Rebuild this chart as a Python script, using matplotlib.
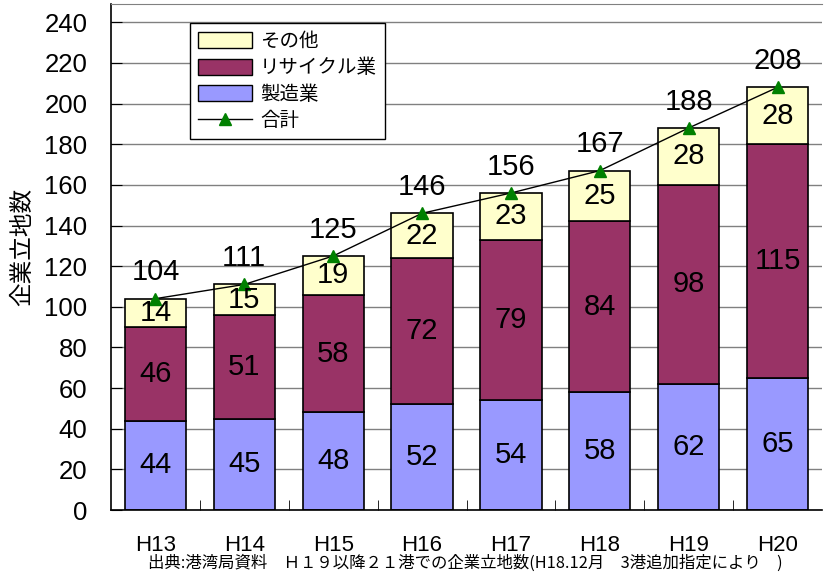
import numpy as np
import matplotlib
matplotlib.use("Agg")
import matplotlib.pyplot as plt
from matplotlib.patches import Patch
from matplotlib.lines import Line2D

# data
years = ["H13", "H14", "H15", "H16", "H17", "H18", "H19", "H20"]
seizo = [44, 45, 48, 52, 54, 58, 62, 65]
recycle = [46, 51, 58, 72, 79, 84, 98, 115]
sonota = [14, 15, 19, 22, 23, 25, 28, 28]
total = [104, 111, 125, 146, 156, 167, 188, 208]

c_seizo = "#9999FF"
c_recycle = "#993366"
c_sonota = "#FFFFCC"

num_font = ["Liberation Sans", "DejaVu Sans"]
jp_font = ["Noto Sans CJK JP", "DejaVu Sans"]

fig = plt.figure(figsize=(8.25, 5.77), dpi=100)
ax = fig.add_axes([111/825, 1-510/577, 711/825, 506/577])

x = np.arange(len(years))
w = 0.69
b1 = ax.bar(x, seizo, w, color=c_seizo, edgecolor="black", linewidth=1.2, zorder=2)
b2 = ax.bar(x, recycle, w, bottom=seizo, color=c_recycle, edgecolor="black", linewidth=1.2, zorder=2)
bot3 = np.array(seizo) + np.array(recycle)
b3 = ax.bar(x, sonota, w, bottom=bot3, color=c_sonota, edgecolor="black", linewidth=1.2, zorder=2)
ax.plot(x, total, color="black", lw=1, marker="^", markersize=8,
        markerfacecolor="green", markeredgecolor="green", zorder=3)

# labels in segments
for i in range(len(years)):
    ax.text(x[i], seizo[i]/2, str(seizo[i]), ha="center", va="center",
            fontsize=21, family=num_font, zorder=4)
    ax.text(x[i], seizo[i] + recycle[i]/2, str(recycle[i]), ha="center", va="center",
            fontsize=21, family=num_font, zorder=4)
    ax.text(x[i], bot3[i] + sonota[i]/2, str(sonota[i]), ha="center", va="center",
            fontsize=21, family=num_font, zorder=4)
    ax.annotate(str(total[i]), (x[i], total[i]), xytext=(0, 19), textcoords="offset points",
                ha="center", va="center", fontsize=21, family=num_font, zorder=4)

ax.set_xlim(-0.5, len(years) - 0.5)
ax.set_ylim(0, 249)
ax.set_yticks(range(0, 241, 20))
ax.yaxis.grid(True, color="#808080", lw=1, zorder=0)
ax.set_axisbelow(True)
ax.tick_params(axis="y", direction="in", length=8, labelsize=18.5, pad=17)
for t in ax.get_yticklabels():
    t.set_family(num_font)

ax.set_xticks(x)
ax.set_xticklabels(years, fontsize=16, family=num_font)
ax.tick_params(axis="x", which="major", length=0, pad=18)
ax.set_xticks(x[:-1] + 0.5, minor=True)
ax.tick_params(axis="x", which="minor", direction="in", length=7, color="black")

ax.spines["right"].set_visible(False)
ax.spines["top"].set_color("#808080")
ax.spines["left"].set_linewidth(1.2)
ax.spines["bottom"].set_linewidth(1.2)

fig.text(22.5/825, 1-247/577, "企業立地数", rotation=90, ha="center", va="center",
         fontsize=17, family=jp_font)

handles = [Patch(facecolor=c_sonota, edgecolor="black"),
           Patch(facecolor=c_recycle, edgecolor="black"),
           Patch(facecolor=c_seizo, edgecolor="black"),
           Line2D([], [], color="black", lw=1, marker="^", markersize=8,
                  markerfacecolor="green", markeredgecolor="green")]
leg = ax.legend(handles, ["その他", "リサイクル業", "製造業", "合計"],
                loc="upper left", bbox_to_anchor=(0.111, 0.962),
                prop={"family": jp_font, "size": 14}, frameon=True, fancybox=False,
                edgecolor="black", framealpha=1, borderpad=0.4, labelspacing=0.28,
                handlelength=2.8, handleheight=0.9, handletextpad=0.4, borderaxespad=0)
leg.get_frame().set_linewidth(1)

fig.text(465/825, 1-563/577,
         "出典:港湾局資料　Ｈ１９以降２１港での企業立地数(H18.12月　3港追加指定により　)",
         ha="center", va="center", fontsize=11.8, family=jp_font)

fig.savefig("out.png", dpi=100)
